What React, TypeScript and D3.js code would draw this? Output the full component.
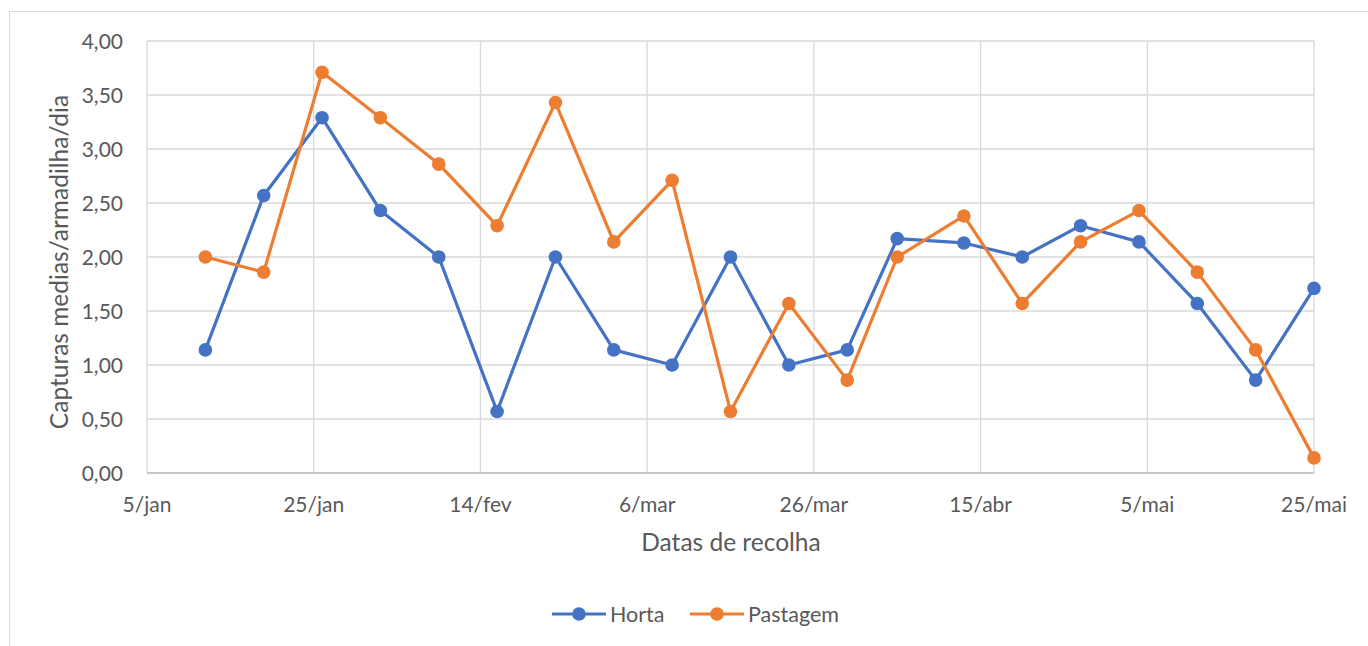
import React from 'react';
import * as d3 from 'd3';

const dates = [
  '2019-01-12', '2019-01-19', '2019-01-26', '2019-02-02', '2019-02-09',
  '2019-02-16', '2019-02-23', '2019-03-02', '2019-03-09', '2019-03-16',
  '2019-03-23', '2019-03-30', '2019-04-05', '2019-04-13', '2019-04-20',
  '2019-04-27', '2019-05-04', '2019-05-11', '2019-05-18', '2019-05-25',
];
const horta = [
  1.14, 2.57, 3.29, 2.43, 2.0, 0.57, 2.0, 1.14, 1.0, 2.0,
  1.0, 1.14, 2.17, 2.13, 2.0, 2.29, 2.14, 1.57, 0.86, 1.71,
];
const pastagem = [
  2.0, 1.86, 3.71, 3.29, 2.86, 2.29, 3.43, 2.14, 2.71, 0.57,
  1.57, 0.86, 2.0, 2.38, 1.57, 2.14, 2.43, 1.86, 1.14, 0.14,
];
const tickDates = [
  '2019-01-05', '2019-01-25', '2019-02-14', '2019-03-06',
  '2019-03-26', '2019-04-15', '2019-05-05', '2019-05-25',
];
const tickLabels = ['5/jan', '25/jan', '14/fev', '6/mar', '26/mar', '15/abr', '5/mai', '25/mai'];
const yTicks = [0, 0.5, 1, 1.5, 2, 2.5, 3, 3.5, 4];

const W = 1368;
const H = 646;
const plot = { left: 147, right: 1314, top: 41, bottom: 473 };
const FONT = 'Lato, "Open Sans", sans-serif';
const TXT = '#595959';
const GRID = '#D9D9D9';

const series = [
  { name: 'Horta', values: horta, color: '#4472C4' },
  { name: 'Pastagem', values: pastagem, color: '#ED7D31' },
];

const parse = d3.utcParse('%Y-%m-%d');

export default function App() {
  const x = d3
    .scaleUtc()
    .domain([parse(tickDates[0])!, parse(tickDates[tickDates.length - 1])!])
    .range([plot.left, plot.right]);
  const y = d3.scaleLinear().domain([0, 4]).range([plot.bottom, plot.top]);
  const fmt = (v: number) => d3.format('.2f')(v).replace('.', ',');

  const line = d3
    .line<number>()
    .x((_, i) => x(parse(dates[i])!))
    .y((d) => y(d));

  return (
    <div style={{ position: 'absolute', left: 0, top: 0 }}>
      <svg width={W} height={H} style={{ display: 'block' }} fontFamily={FONT}>
        <rect x={0} y={0} width={W} height={H} fill="#fff" />
        <rect x={9.5} y={11.5} width={W + 20} height={H + 20} fill="none" stroke={GRID} strokeWidth={1} />

        {/* horizontal gridlines */}
        {yTicks.map((t) => (
          <line key={'h' + t} x1={plot.left} x2={plot.right} y1={y(t)} y2={y(t)} stroke={GRID} strokeWidth={1.3} />
        ))}
        {/* vertical gridlines */}
        {tickDates.map((d) => (
          <line key={'v' + d} x1={x(parse(d)!)} x2={x(parse(d)!)} y1={plot.top} y2={plot.bottom} stroke={GRID} strokeWidth={1.3} />
        ))}
        <line x1={plot.left} x2={plot.right} y1={plot.bottom} y2={plot.bottom} stroke="#BFBFBF" strokeWidth={1.3} />

        {/* y tick labels */}
        {yTicks.map((t) => (
          <text key={'yl' + t} x={123} y={y(t) + 7.5} textAnchor="end" fontSize={21} fill={TXT}>
            {fmt(t)}
          </text>
        ))}
        {/* x tick labels */}
        {tickDates.map((d, i) => (
          <text key={'xl' + d} x={x(parse(d)!)} y={512} textAnchor="middle" fontSize={21} fill={TXT}>
            {tickLabels[i]}
          </text>
        ))}

        <text x={731} y={551} textAnchor="middle" fontSize={24.5} fill={TXT}>
          Datas de recolha
        </text>
        <text
          transform={`translate(68, 262) rotate(-90)`}
          textAnchor="middle"
          fontSize={24.5}
          fill={TXT}
        >
          Capturas medias/armadilha/dia
        </text>

        {series.map((s) => (
          <g key={s.name}>
            <path d={line(s.values) ?? ''} fill="none" stroke={s.color} strokeWidth={3.2} strokeLinejoin="round" />
            {s.values.map((v, i) => (
              <circle key={i} cx={x(parse(dates[i])!)} cy={y(v)} r={6.8} fill={s.color} />
            ))}
          </g>
        ))}

        {/* legend */}
        {series.map((s, i) => {
          const lx = i === 0 ? 552 : 690;
          return (
            <g key={'lg' + s.name}>
              <line x1={lx} x2={lx + 54} y1={614} y2={614} stroke={s.color} strokeWidth={3.2} />
              <circle cx={lx + 27} cy={614} r={6.8} fill={s.color} />
              <text x={lx + 58} y={621.5} fontSize={21.5} fill={TXT}>
                {s.name}
              </text>
            </g>
          );
        })}
      </svg>
    </div>
  );
}
